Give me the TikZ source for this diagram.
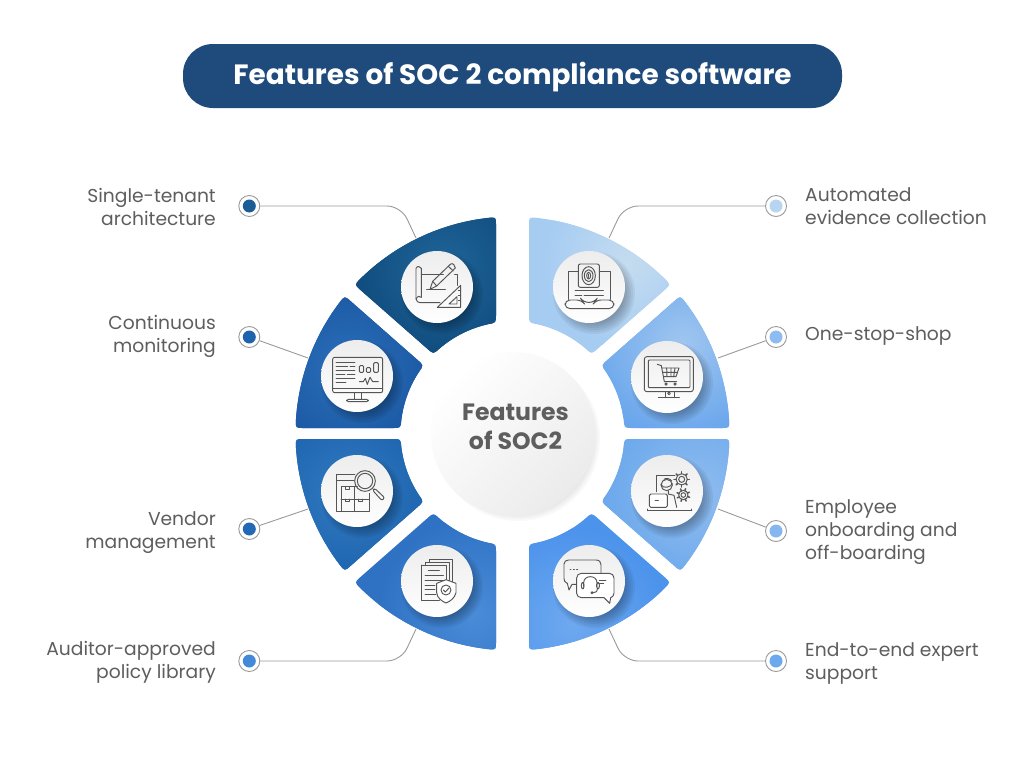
\documentclass[tikz,border=0pt]{standalone}
\usepackage{fontspec}
\setmainfont{Poppins}
\usetikzlibrary{calc}
\definecolor{txt}{HTML}{5E5E5E}
\definecolor{ico}{HTML}{555555}
\definecolor{pillc}{HTML}{1F4B7C}
\definecolor{lnc}{HTML}{9A9A9A}
\definecolor{EEE}{HTML}{EDEDED}
\definecolor{hubend}{HTML}{EBEBEB}
\definecolor{c1}{HTML}{1A5C96}\definecolor{c2}{HTML}{1F62AE}\definecolor{c3}{HTML}{2368B4}\definecolor{c4}{HTML}{4488D8}
\definecolor{c5}{HTML}{B7D5F0}\definecolor{c6}{HTML}{8FBCF0}\definecolor{c7}{HTML}{86B6F0}\definecolor{c8}{HTML}{6CA8EE}
\definecolor{b1}{HTML}{0F4A7C}\definecolor{g1}{HTML}{1F6599}
\definecolor{b2}{HTML}{1A55A0}\definecolor{g2}{HTML}{2A6FBA}
\definecolor{b3}{HTML}{1C62AD}\definecolor{g3}{HTML}{3079C0}
\definecolor{b4}{HTML}{2F72C4}\definecolor{g4}{HTML}{4A8CD8}
\definecolor{b5}{HTML}{A6CCF2}\definecolor{g5}{HTML}{C5DCF0}
\definecolor{b6}{HTML}{69A6EC}\definecolor{g6}{HTML}{A0C6F0}
\definecolor{b7}{HTML}{6BA8EC}\definecolor{g7}{HTML}{8FBCEF}
\definecolor{b8}{HTML}{4C93EC}\definecolor{g8}{HTML}{6EA9EF}
\newcommand{\shapeA}{(263.53:217) arc[start angle=263.53,end angle=225.39,radius=217] .. controls (-158,-148.8) .. (-152,-143.5) -- (-85.1,-84.7) .. controls (-79.1,-79.4) .. (229.2:112) arc[start angle=229.2,end angle=257.44,radius=112] .. controls (-16.5,-110.8) .. (-16.5,-118.8) -- (-16.5,-208.4) .. controls (-16.5,-216.4) .. cycle}
\newcommand{\shapeB}{(217.24:217) arc[start angle=217.24,end angle=183.56,radius=217] .. controls (-216.9,-5.5) .. (-208.9,-5.5) -- (-119.9,-5.5) .. controls (-111.9,-5.5) .. (186.9:112) arc[start angle=186.9,end angle=213.41,radius=112] .. controls (-88.9,-68.2) .. (-94.9,-73.5) -- (-161.8,-132.3) .. controls (-167.8,-137.6) .. cycle}
% shape, sx, sy, base, glow, glow x, glow y, glow radius
\newcommand{\sector}[8]{\begin{scope}[shift={(512.5,433.5)},xscale=#2,yscale=#3]
\clip #1;
\fill[#4] (-230,-230) rectangle (0,0);
\shade[inner color=#5,outer color=#4] (#6,#7) circle[radius=#8];
\end{scope}}
\newcommand{\softshadow}[4]{\foreach \k in {0,2,...,12}{\fill[black,opacity=#4] (#1,#2) circle[radius=#3+\k-8];}}
\tikzset{
 pic lines/.style={draw=ico,line width=0.95pt,line cap=round,line join=round},
 iconbg/.style={circle,minimum size=72pt,inner sep=0pt,top color=EEE,bottom color=white},
 ringdot/.style={circle,draw=lnc,line width=0.9pt,fill=white,minimum size=21pt,inner sep=0pt},
 coredot/.style={circle,minimum size=13pt,inner sep=0pt},
 conn/.style={draw=lnc,line width=0.9pt,rounded corners=14pt},
 lab/.style={text=txt,inner sep=0pt,font=\fontsize{18.7}{23}\selectfont},
 labl/.style={lab,anchor=east,align=right},
 labr/.style={lab,anchor=west,align=left},
 zoomed/.style={x=0.33333pt,y=-0.33333pt,pic lines},
}
\begin{document}
\begin{tikzpicture}[x=1pt,y=-1pt]
\useasboundingbox (0,0) rectangle (1024,766);
\fill[white] (0,0) rectangle (1024,766);
% title
\node[fill=pillc,rounded corners=30pt,minimum width=659pt,minimum height=64pt,inner sep=0pt] (pill) at (512.5,76) {};
\node[text=white,font=\fontsize{27.9}{32}\selectfont\bfseries] (title) at (512.5,77) {Features of SOC 2 compliance software};
% dots
\foreach \n/\x/\y in {d1/249.3/206,d2/249.3/337,d3/249.3/529,d4/249.3/661,d5/776/206,d6/776/337,d7/776/531,d8/776/661}{
 \node[ringdot] (\n) at (\x,\y) {};
}
% connector ends
\coordinate (e1) at (416,238);\coordinate (k1) at (401,206);
\coordinate (e2) at (308,358);
\coordinate (e3) at (308,509);
\coordinate (e4) at (416,629);\coordinate (k4) at (401,661);
\coordinate (e5) at (609,238);\coordinate (k5) at (624,206);
\coordinate (e6) at (718,358);
\coordinate (e7) at (718,509);
\coordinate (e8) at (609,629);\coordinate (k8) at (624,661);
\draw[conn] (d1) -- (k1) -- (e1);
\draw[conn] (d2) -- (e2);
\draw[conn] (d3) -- (e3);
\draw[conn] (d4) -- (k4) -- (e4);
\draw[conn] (d5) -- (k5) -- (e5);
\draw[conn] (d6) -- (e6);
\draw[conn] (d7) -- (e7);
\draw[conn] (d8) -- (k8) -- (e8);
% dot cores
\foreach \n/\c in {d1/c1,d2/c2,d3/c3,d4/c4,d5/c5,d6/c6,d7/c7,d8/c8}{
 \node[coredot,fill=\c] (\n c) at (\n) {};
}
% sectors
\sector{\shapeA}{1}{1}{b1}{g1}{-70}{-165}{95}
\sector{\shapeB}{1}{1}{b2}{g2}{-165}{-65}{95}
\sector{\shapeB}{1}{-1}{b3}{g3}{-165}{-60}{95}
\sector{\shapeA}{1}{-1}{b4}{g4}{-40}{-180}{95}
\sector{\shapeA}{-1}{1}{b5}{g5}{-115}{-170}{85}
\sector{\shapeB}{-1}{1}{b6}{g6}{-170}{-90}{95}
\sector{\shapeB}{-1}{-1}{b7}{g7}{-185}{-60}{95}
\sector{\shapeA}{-1}{-1}{b8}{g8}{-60}{-190}{95}
% icon circles
\foreach \n/\x/\y in {i1/437/287,i2/357/376,i3/357/491,i4/437/581,i5/589/287,i6/667/377,i7/667/491,i8/589/581}{
 \softshadow{\x+5}{\y+6}{37}{0.05}
 \node[iconbg] (\n) at (\x,\y) {};
}
% hub
\softshadow{518}{439}{78}{0.025}
\node[circle,minimum size=164pt,inner sep=0pt,top color=white,bottom color=hubend,shading angle=45] (hub) at (513,434) {};
\node[text=txt,font=\fontsize{23.6}{29}\selectfont\bfseries,align=center] (hubtext) at (515.5,426.5) {Features\\of SOC2};
% labels
\node[labl] (l1) at (216,206.5) {Single-tenant\\architecture};
\node[labl] (l2) at (216,336.5) {Continuous\\monitoring};
\node[labl] (l3) at (216,532.5) {Vendor\\management};
\node[labl] (l4) at (216,662.5) {Auditor-approved\\policy library};
\node[labr] (r1) at (805,206.5) {Automated\\evidence collection};
\node[labr] (r2) at (805,336) {One-stop-shop};
\node[labr] (r3) at (805,532) {Employee\\onboarding and\\off-boarding};
\node[labr] (r4) at (805,663) {End-to-end expert\\support};
% ICON 1 plan, pencil, set square
\begin{scope}[shift={(280,200)},zoomed]
\draw (424,292) -- (424,205) .. controls (420,198) and (412,197) .. (408,205) -- (408,296) .. controls (409,304) and (414,308) .. (420,308) -- (480,308);
\draw (408,296) .. controls (410,288) and (420,286) .. (424,292);
\draw (424,222) -- (490,222) (524,222) -- (533,222) -- (533,256);
\draw (450,268) -- (458,244) -- (512,192) .. controls (518,188) and (526,196) .. (526,204) -- (470,258) -- cycle;
\draw (505,199) -- (520,213) (458,244) -- (470,258);
\draw (440,268) -- (496,268);
\draw (472,322) -- (542,256) -- (542,322) -- cycle;
\draw (507,312) -- (531,290) -- (531,312) -- cycle;
\draw (535,270) -- (542,270) (535,285) -- (542,285) (535,300) -- (542,300);
\end{scope}
% ICON 2 monitor with charts
\begin{scope}[shift={(280,200)},zoomed]
\draw[rounded corners=2pt] (158,472) rectangle (308,578);
\draw (158,566) -- (308,566);
\draw (222,578) -- (222,598) (245,578) -- (245,598);
\draw[rounded corners=1.5pt] (200,598) rectangle (265,605);
\draw (168,487) -- (225,487) (168,498) -- (203,498) (210,498) -- (225,498) (168,510) -- (225,510) (168,522) -- (195,522) (202,522) -- (225,522) (168,535) -- (225,535) (168,548) -- (198,548);
\draw[rounded corners=1pt] (238,497) rectangle (251,517) (259,503) rectangle (272,517) (281,488) rectangle (295,517);
\draw (238,545) -- (250,545) -- (256,535) -- (262,553) -- (270,532) -- (278,545) -- (295,545);
\end{scope}
% ICON 3 cabinet and magnifier
\begin{scope}[shift={(280,430)},zoomed]
\draw (225,133) -- (170,133) -- (170,245) -- (268,245) -- (268,190);
\draw (170,150) -- (222,150);
\draw (183,245) -- (183,170) -- (232,170);
\draw (183,207) -- (268,207) (222,170) -- (222,245);
\draw (196,170) -- (196,178) -- (208,178) -- (208,170) (196,207) -- (196,215) -- (208,215) -- (208,207) (234,207) -- (234,215) -- (246,215) -- (246,207);
\draw (255,153) circle[radius=31];
\draw (255,153) circle[radius=23];
\draw[rounded corners=2pt] (278,181) -- (284,175) -- (314,203) -- (306,212) -- cycle;
\end{scope}
% ICON 4 documents and shield
\begin{scope}[shift={(280,430)},zoomed]
\draw (424,405) -- (500,405) -- (500,452) (424,405) -- (424,510) -- (478,510);
\draw (436,405) -- (436,397) -- (509,397) -- (509,455) (447,397) -- (447,389) -- (517,389) -- (517,462);
\draw (445,420) -- (478,420) (435,435) -- (490,435) (435,450) -- (490,450) (435,465) -- (465,465) (435,478) -- (465,478) (435,492) -- (468,492);
\draw[fill=white] (498,449) -- (528,460) -- (528,488) .. controls (524,505) and (510,514) .. (498,519) .. controls (486,514) and (472,505) .. (470,488) -- (470,460) -- cycle;
\draw (498,480) circle[radius=15];
\draw (490,480) -- (496,486) -- (507,474);
\end{scope}
% ICON 5 laptop with fingerprint
\begin{scope}[shift={(510,200)},zoomed]
\draw (205,215) -- (175,215) -- (175,298) (268,215) -- (300,215) -- (300,298);
\draw[rounded corners=2pt] (205,192) rectangle (268,262);
\draw[rounded corners=5pt] (165,300) -- (215,300) -- (220,307) -- (253,307) -- (258,300) -- (312,300) -- (312,326) -- (165,326) -- cycle;
\draw (195,272) -- (280,272) (195,285) -- (215,285) (222,285) -- (280,285);
\draw (236,227) ellipse[x radius=6,y radius=10];
\draw (236,227) ellipse[x radius=13,y radius=18];
\draw (236,227) ellipse[x radius=20,y radius=27];
\draw (236,222) -- (236,232);
\end{scope}
% ICON 6 monitor with cart
\begin{scope}[shift={(510,200)},zoomed]
\draw[rounded corners=2.5pt] (403,470) rectangle (550,575);
\draw[rounded corners=1pt] (415,480) rectangle (540,563);
\draw (465,575) -- (465,593) (492,575) -- (492,593) (445,593) -- (508,593);
\draw (477,580) circle[radius=4];
\draw (442,493) -- (454,497) -- (463,545) -- (500,545);
\draw (456,504) -- (507,504) -- (498,530) -- (461,530);
\draw (458,517) -- (502,517) (470,504) -- (471,530) (483,504) -- (483,530) (495,504) -- (491,530);
\draw (468,552) circle[radius=3.5] (495,552) circle[radius=3.5];
\end{scope}
% ICON 7 person, laptop, gears
\begin{scope}[shift={(510,430)},zoomed]
\draw (438,185) -- (438,135) -- (495,135);
\draw (470,165) circle[radius=17];
\draw (453,163) .. controls (458,178) and (484,172) .. (487,160);
\draw (462,148) .. controls (466,143) and (480,145) .. (485,153);
\draw (475,192) -- (492,196) -- (500,232) (475,182) -- (475,192);
\draw[fill=white,rounded corners=1.5pt] (418,192) rectangle (472,232);
\draw (435,210) -- (445,210);
\draw (412,242) -- (545,242) (412,237) -- (412,242) (545,237) -- (545,242);
\draw (515,148) circle[radius=9];
\draw (515,148) circle[radius=17];
\foreach \a in {0,45,...,315}{\draw[line width=1.6pt] ($(515,148)+(\a:17)$) -- ($(515,148)+(\a:23)$);}
\draw (520,195) circle[radius=7];
\draw (520,195) circle[radius=14];
\foreach \a in {20,65,...,335}{\draw[line width=1.5pt] ($(520,195)+(\a:14)$) -- ($(520,195)+(\a:20)$);}
\end{scope}
% ICON 8 chat and headset
\begin{scope}[shift={(510,430)},zoomed]
\draw (200,463) -- (186,463) -- (177,480) -- (172,460) .. controls (165,458) and (162,452) .. (162,446) -- (162,402) .. controls (162,395) and (168,390) .. (176,390) -- (258,390) .. controls (268,390) and (273,396) .. (273,404) -- (273,428);
\draw (180,418) -- (183,418) (190,418) -- (193,418) (200,418) -- (203,418);
\draw[fill=white] (214,430) -- (298,430) .. controls (306,430) and (312,436) .. (312,444) -- (312,490) .. controls (312,497) and (306,502) .. (302,503) -- (299,520) -- (282,503) -- (214,503) .. controls (206,503) and (200,497) .. (200,490) -- (200,444) .. controls (200,436) and (206,430) .. (214,430) -- cycle;
\draw (221,470) -- (221,458) .. controls (221,434) and (261,434) .. (261,458) -- (261,470);
\draw[rounded corners=2pt] (214,458) rectangle (222,476) (260,458) rectangle (268,476);
\draw (262,476) .. controls (262,486) and (256,488) .. (248,488);
\draw (246,488) circle[radius=3];
\draw (268,450) -- (288,450) (268,460) -- (281,460);
\end{scope}
\end{tikzpicture}
\end{document}
